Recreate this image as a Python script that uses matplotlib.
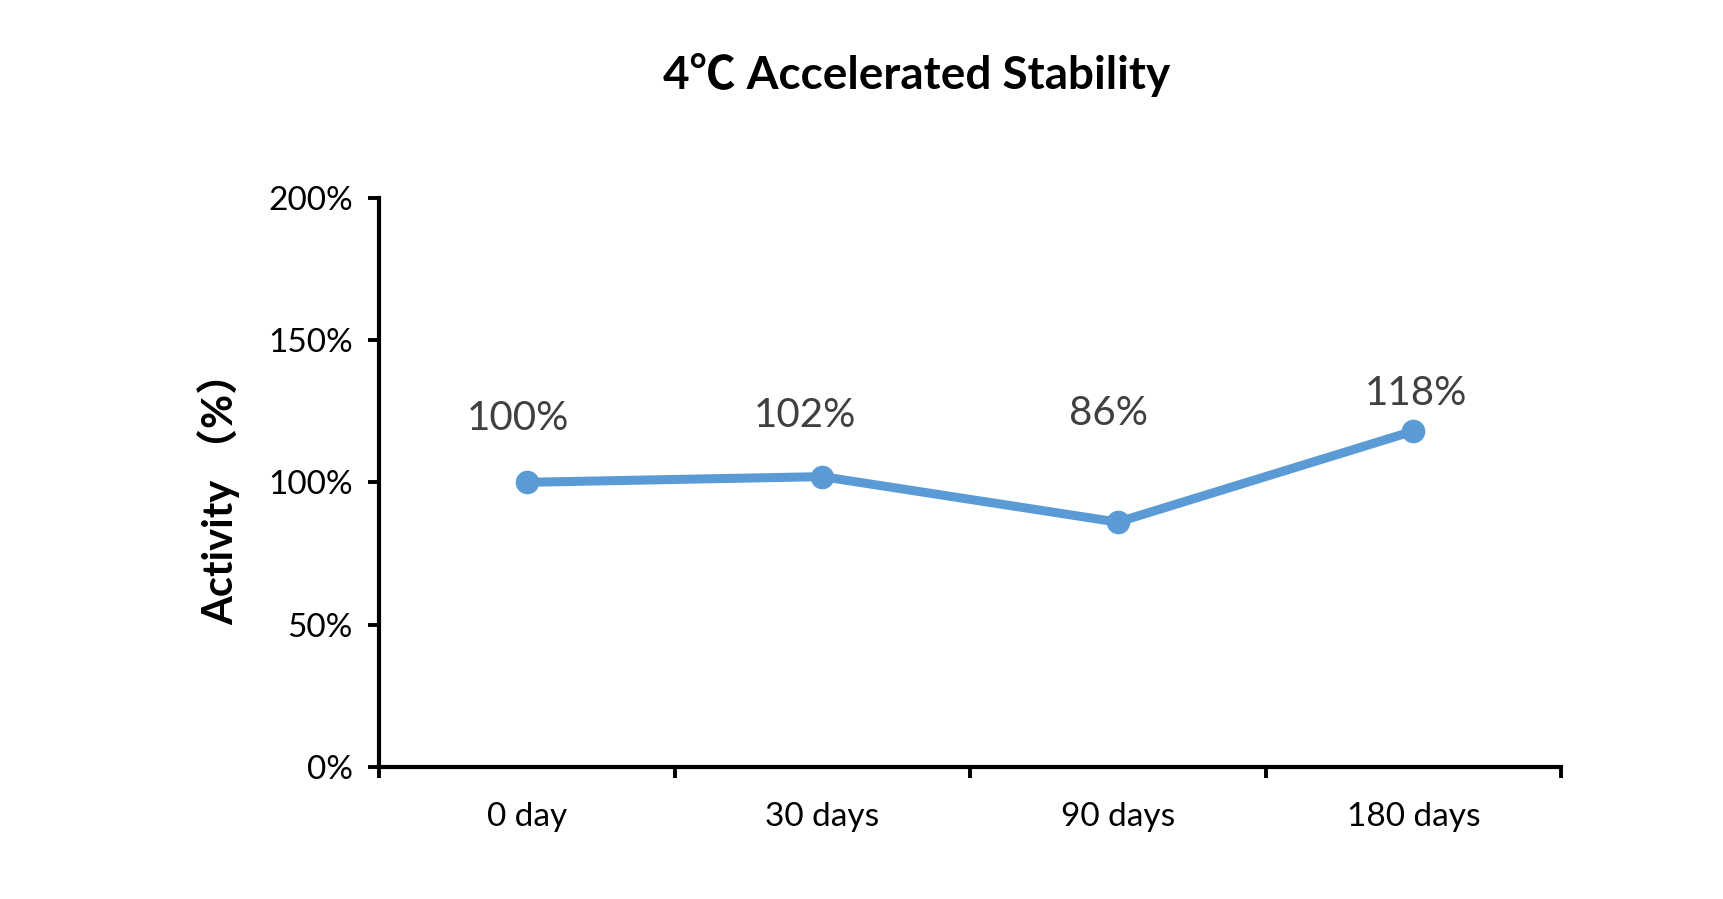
import matplotlib
matplotlib.use("Agg")
import matplotlib.pyplot as plt
import numpy as np

plt.rcParams['font.family'] = ['Lato', 'Noto Sans CJK SC', 'DejaVu Sans']

# ---- data ----
categories = ["0 day", "30 days", "90 days", "180 days"]
activity = [1.00, 1.02, 0.86, 1.18]
value_labels = ["100%", "102%", "86%", "118%"]
y_ticks = [0, 0.5, 1.0, 1.5, 2.0]
y_tick_labels = ["0%", "50%", "100%", "150%", "200%"]

# label placement (x shift in category units, y in data units)
label_dx = [-0.03, -0.06, -0.03, 0.01]
label_y = [1.224, 1.236, 1.243, 1.313]

LINE_BLUE = "#5B9BD5"

fig = plt.figure(figsize=(17.23, 8.99), dpi=100)
ax = fig.add_axes([0.220, 0.147, 0.686, 0.633])

x = np.arange(len(categories))
ax.plot(x, activity, color=LINE_BLUE, lw=6.5, marker="o", ms=16,
        solid_joinstyle="round", zorder=3)

for xi, dx, ly, lab in zip(x, label_dx, label_y, value_labels):
    ax.text(xi + dx, ly, lab, ha="center", va="center", fontsize=29,
            color="#404040")

ax.set_xlim(-0.5, len(categories) - 0.5)
ax.set_ylim(0, 2.0)

# category ticks between groups, labels at centres
ax.set_xticks(np.arange(-0.5, len(categories), 1.0))
ax.set_xticklabels([])
ax.set_xticks(x, minor=True)
ax.set_xticklabels(categories, minor=True, fontsize=24)
ax.tick_params(axis="x", which="major", direction="out", length=8, width=2.8)
ax.tick_params(axis="x", which="minor", length=0, pad=25)

ax.set_yticks(y_ticks)
ax.set_yticklabels(y_tick_labels, fontsize=24)
ax.tick_params(axis="y", direction="out", length=8, width=2.8, pad=11)

for side in ("top", "right"):
    ax.spines[side].set_visible(False)
for side in ("left", "bottom"):
    ax.spines[side].set_linewidth(3.0)

fig.text(0.532, 0.917, "4℃ Accelerated Stability", ha="center", va="center",
         fontsize=33, fontweight="bold")
fig.text(0.127, 0.457, "Activity （%）", ha="center", va="center",
         rotation=90, fontsize=30, fontweight="bold")

fig.savefig("out.png", dpi=100)
